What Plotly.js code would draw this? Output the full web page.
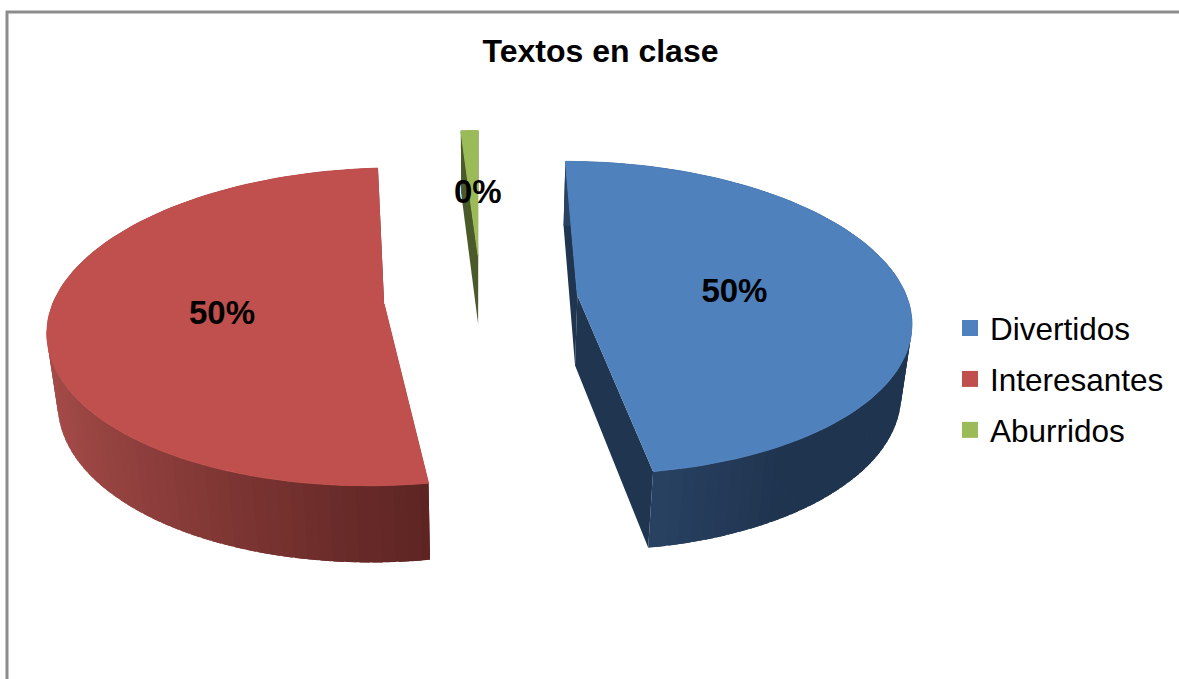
<!DOCTYPE html>
<html>
<head>
<meta charset="utf-8">
<script src="https://cdn.plot.ly/plotly-3.0.1.min.js"></script>
<style>html,body{margin:0;padding:0;background:#fff;overflow:hidden}</style>
</head>
<body>
<div id="chart" style="width:1179px;height:679px"></div>
<script>
// Data
const categories = ['Divertidos', 'Interesantes', 'Aburridos'];
const values = [50, 50, 0.4];
const chartTitle = 'Textos en clase';

// Styles
const topColors = ['#4F81BD', '#C0504D', '#9BBB59'];
const radialWallColors = ['#1F3550', '#5E2523', '#4A5A2A'];
// wall shade runs across the horizontal position on the disc (sine of the angle)
const wallShades = [
  {from: 0.5, to: 0.15, c0: [31, 52, 79], c1: [41, 66, 98]},
  {from: -1, to: 0.15, c0: [168, 77, 74], c1: [92, 36, 34]},
  {from: 0, to: 1, c0: [74, 90, 42], c1: [74, 90, 42]}
];
const labelNudge = [[1, 4], [-2, 3], [4, 3]];
const FONT = '"Liberation Sans", Arial, sans-serif';

// 3D view of the disc (pixel scale, used by the hidden axes)
const view = {cx: 481, cy: 299, rx: 330, ry: 154.2, persp: 0.143, depth: 72, depthPersp: 0.025,
              explode: 0.294, minSpan: 3.4, warp: 7.3, labelR: 0.48};
const rad = d => d * Math.PI / 180;

function project(wx, wz, h) {
  const s = 1 / (1 + view.persp * wz + (h ? view.depthPersp : 0));
  return [view.cx + wx * view.rx * s, view.cy + (-wz * view.ry + h) * s];
}
const warp = a => a - view.warp * Math.sin(rad(a / 2));

// angles come from the values
const total = values.reduce((a, b) => a + b, 0);
const rawSpans = values.map(v => v / total * 360);
const smallExtra = rawSpans.reduce((acc, s) => acc + Math.max(view.minSpan - s, 0), 0);
const bigSum = rawSpans.filter(s => s >= view.minSpan).reduce((a, b) => a + b, 0);
const spans = rawSpans.map(s => s < view.minSpan ? view.minSpan : s * (1 - smallExtra / bigSum));

const traces = [];
function poly(points, color, width) {
  traces.push({
    type: 'scatter', mode: 'lines', fill: 'toself', fillcolor: color,
    x: points.map(p => p[0]), y: points.map(p => p[1]),
    line: {color: color, width: width}, hoverinfo: 'skip', showlegend: false
  });
}
function mix(sh, a) {
  let t = (Math.sin(rad(a)) - sh.from) / (sh.to - sh.from);
  t = Math.max(0, Math.min(1, t));
  const c = sh.c0.map((v, i) => Math.round(v + (sh.c1[i] - v) * t));
  return 'rgb(' + c.join(',') + ')';
}

const labelX = [], labelY = [], labelText = [];
let cum = 0;
values.forEach((v, i) => {
  const a0 = warp(cum), a1 = warp(cum + spans[i]);
  cum += spans[i];
  const mid = (a0 + a1) / 2;
  const ex = view.explode * Math.sin(rad(mid));
  const ez = view.explode * Math.cos(rad(mid));
  const pt = (a, r, h) => project(ex + r * Math.sin(rad(a)), ez + r * Math.cos(rad(a)), h);

  // straight walls
  [a0, a1].forEach(a => poly([pt(a, 0, 0), pt(a, 1, 0), pt(a, 1, view.depth), pt(a, 0, view.depth)], radialWallColors[i], 0));

  // curved wall, back to front, strips slightly overlapping so no seams show
  const n = Math.max(2, Math.ceil((a1 - a0) / 2));
  const strips = [];
  for (let k = 0; k < n; k++) strips.push([a0 + (a1 - a0) * k / n, a0 + (a1 - a0) * (k + 1) / n]);
  strips.sort((p, q) => Math.cos(rad((q[0] + q[1]) / 2)) - Math.cos(rad((p[0] + p[1]) / 2)));
  strips.forEach(st => {
    const s0 = Math.max(a0, st[0] - 0.8), s1 = Math.min(a1, st[1] + 0.8);
    poly([pt(s0, 1, 0), pt((s0 + s1) / 2, 1, 0), pt(s1, 1, 0), pt(s1, 1, view.depth), pt((s0 + s1) / 2, 1, view.depth), pt(s0, 1, view.depth)],
         mix(wallShades[i], (st[0] + st[1]) / 2), 0);
  });

  // top face
  const top = [pt(a0, 0, 0)];
  for (let k = 0; k <= 90; k++) top.push(pt(a0 + (a1 - a0) * k / 90, 1, 0));
  poly(top, topColors[i], 1);

  const lp = pt(mid, view.labelR, 0);
  labelX.push(lp[0] + labelNudge[i][0]); labelY.push(lp[1] + labelNudge[i][1]);
  labelText.push(Math.round(v / total * 100) + '%');
});

// data labels
traces.push({
  type: 'scatter', mode: 'text', x: labelX, y: labelY, text: labelText,
  textposition: 'middle center', cliponaxis: false,
  textfont: {family: FONT, size: 33, color: '#000', weight: 700},
  hoverinfo: 'skip', showlegend: false
});

// legend entries
categories.forEach((c, i) => traces.push({
  type: 'scatter', mode: 'markers', name: c, x: [-100], y: [-100], legendgroup: 'g' + i,
  marker: {symbol: 'square', size: 17, color: topColors[i]}, hoverinfo: 'skip'
}));

const layout = {
  width: 1179, height: 679, margin: {l: 0, r: 0, t: 0, b: 0},
  paper_bgcolor: '#fff', plot_bgcolor: '#fff',
  title: {text: '<b>' + chartTitle + '</b>', x: 600.5 / 1179, xanchor: 'center', y: 1 - 51 / 679, yanchor: 'middle',
          font: {family: FONT, size: 32, color: '#000'}},
  xaxis: {visible: false, range: [0, 1179], fixedrange: true},
  yaxis: {visible: false, range: [679, 0], fixedrange: true},
  showlegend: true,
  legend: {x: 950 / 1179, xanchor: 'left', y: 1 - 301 / 679, yanchor: 'top', bgcolor: 'rgba(0,0,0,0)',
           font: {family: FONT, size: 31.5, color: '#000'}, itemwidth: 30, tracegroupgap: 7,
           itemclick: false, itemdoubleclick: false},
  shapes: [{type: 'rect', xref: 'x', yref: 'y', x0: 7, y0: 12, x1: 1300, y1: 900, layer: 'below',
            line: {color: '#8C8C8C', width: 3}}]
};
Plotly.newPlot('chart', traces, layout, {displayModeBar: false, staticPlot: true});
</script>
</body>
</html>
